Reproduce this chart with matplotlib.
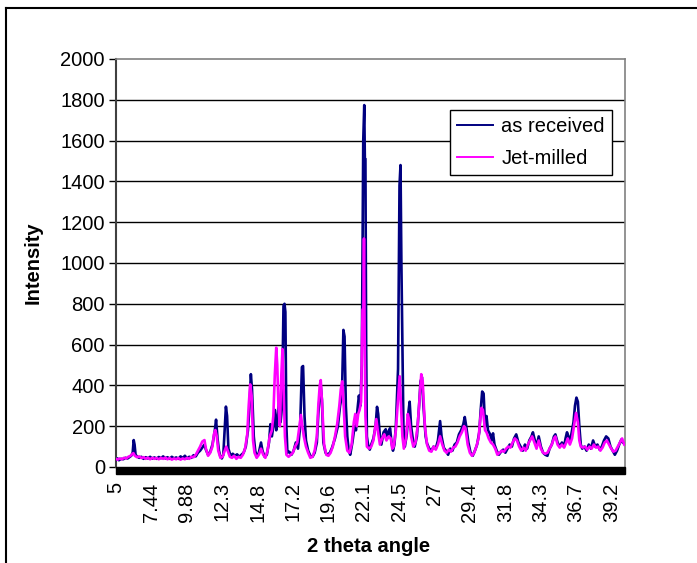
import matplotlib
matplotlib.use("Agg")
import matplotlib.pyplot as plt
from matplotlib.patches import Rectangle
from matplotlib.lines import Line2D

plt.rcParams['font.family'] = ['Liberation Sans', 'DejaVu Sans']

# as received (angle, intensity)
received_x = [5.0, 5.1, 5.2, 5.35, 5.5, 5.65, 5.8, 5.95, 6.05, 6.15, 6.22, 6.28, 6.35, 6.45, 6.6, 6.75, 6.9,
              7.05, 7.2, 7.35, 7.5, 7.65, 7.8, 7.95, 8.1, 8.25, 8.4, 8.55, 8.7, 8.85, 9.0, 9.15, 9.3, 9.45,
              9.6, 9.75, 9.9, 10.05, 10.2, 10.35, 10.5, 10.65, 10.8, 10.95, 11.1, 11.2, 11.35, 11.5, 11.65,
              11.8, 11.9, 12.0, 12.1, 12.2, 12.3, 12.4, 12.5, 12.58, 12.66, 12.75, 12.9, 13.05, 13.2, 13.35,
              13.5, 13.65, 13.8, 13.95, 14.1, 14.2, 14.3, 14.38, 14.5, 14.6, 14.7, 14.85, 15.0, 15.1, 15.25,
              15.4, 15.55, 15.65, 15.75, 15.85, 15.95, 16.05, 16.15, 16.25, 16.35, 16.45, 16.55, 16.62, 16.68,
              16.75, 16.82, 16.95, 17.1, 17.25, 17.4, 17.55, 17.7, 17.82, 17.9, 18.0, 18.1, 18.25, 18.4, 18.55,
              18.7, 18.85, 18.95, 19.05, 19.12, 19.2, 19.3, 19.45, 19.6, 19.75, 19.9, 20.1, 20.3, 20.45, 20.58,
              20.68, 20.76, 20.85, 20.95, 21.05, 21.15, 21.3, 21.45, 21.55, 21.65, 21.75, 21.85, 21.95, 22.05,
              22.12, 22.16, 22.2, 22.25, 22.3, 22.4, 22.5, 22.6, 22.75, 22.9, 23.0, 23.08, 23.2, 23.3, 23.45,
              23.6, 23.7, 23.8, 23.9, 24.0, 24.1, 24.2, 24.3, 24.45, 24.55, 24.62, 24.68, 24.75, 24.82, 24.92,
              25.05, 25.15, 25.25, 25.35, 25.5, 25.6, 25.75, 25.9, 26.0, 26.1, 26.2, 26.35, 26.45, 26.6, 26.75,
              26.9, 27.05, 27.2, 27.35, 27.45, 27.6, 27.75, 27.9, 28.05, 28.2, 28.35, 28.5, 28.65, 28.8, 28.95,
              29.05, 29.15, 29.3, 29.45, 29.6, 29.75, 29.9, 30.05, 30.15, 30.25, 30.35, 30.45, 30.55, 30.65,
              30.8, 30.9, 31.0, 31.1, 31.25, 31.4, 31.55, 31.7, 31.85, 32.0, 32.15, 32.3, 32.45, 32.6, 32.75,
              32.9, 33.05, 33.2, 33.35, 33.5, 33.65, 33.75, 33.85, 34.0, 34.15, 34.3, 34.45, 34.6, 34.75, 34.9,
              35.05, 35.2, 35.3, 35.45, 35.6, 35.75, 35.9, 36.0, 36.1, 36.2, 36.3, 36.4, 36.55, 36.65, 36.75,
              36.85, 36.95, 37.05, 37.15, 37.3, 37.45, 37.6, 37.75, 37.9, 38.05, 38.2, 38.35, 38.5, 38.65, 38.8,
              38.95, 39.1, 39.25, 39.4, 39.55, 39.7, 39.85, 39.95, 40.05]
received_y = [35, 42, 33, 40, 38, 45, 42, 50, 55, 70, 132, 110, 60, 52, 45, 50, 40,
              48, 42, 50, 41, 47, 40, 49, 43, 52, 42, 48, 40, 50, 42, 47, 40, 52,
              44, 55, 42, 50, 45, 58, 52, 70, 80, 95, 110, 85, 60, 75, 110,
              170, 232, 140, 80, 50, 42, 60, 190, 296, 250, 90, 55, 65, 55, 62,
              50, 60, 70, 100, 180, 290, 455, 380, 150, 80, 50, 70, 120, 80, 50,
              60, 120, 210, 150, 200, 280, 180, 250, 340, 220, 300, 790, 800, 760,
              200, 70, 75, 60, 80, 120, 90, 200, 490, 495, 250, 130, 80, 55, 50,
              70, 120, 260, 350, 400, 330, 120, 70, 60, 70, 95, 140, 200, 300, 350,
              672, 640, 300, 150, 80, 60, 120, 200, 180, 280, 350, 300, 500, 1600,
              1774, 1510, 1510, 600, 150, 100, 85, 110, 140, 200, 295, 260, 150, 110, 170,
              185, 140, 175, 190, 120, 80, 110, 200, 480, 1380, 1480, 1000, 600, 200, 100,
              160, 260, 320, 200, 120, 100, 150, 300, 420, 440, 300, 150, 115, 90, 80,
              100, 90, 130, 225, 150, 95, 80, 60, 90, 80, 110, 120, 160, 180, 210,
              245, 200, 120, 70, 55, 80, 110, 170, 280, 370, 360, 200, 250, 180,
              160, 130, 165, 110, 80, 60, 75, 85, 70, 90, 110, 100, 140, 160, 120,
              100, 80, 110, 90, 130, 150, 170, 140, 100, 150, 100, 70, 60, 55, 90,
              110, 150, 160, 120, 100, 120, 100, 140, 170, 150, 120, 160, 220, 300, 340,
              320, 200, 110, 90, 100, 80, 110, 90, 130, 100, 110, 85, 100, 130, 150,
              140, 100, 80, 60, 80, 110, 135, 120, 115]

# jet-milled
milled_x = [5.0, 5.1, 5.25, 5.4, 5.55, 5.7, 5.85, 6.0, 6.1, 6.2, 6.3, 6.45, 6.6, 6.75, 6.9, 7.05, 7.2,
            7.35, 7.5, 7.65, 7.8, 7.95, 8.1, 8.25, 8.4, 8.55, 8.7, 8.85, 9.0, 9.15, 9.3, 9.45, 9.6, 9.75,
            9.9, 10.05, 10.2, 10.35, 10.5, 10.65, 10.8, 10.95, 11.1, 11.2, 11.35, 11.5, 11.65, 11.75, 11.85,
            11.95, 12.05, 12.2, 12.35, 12.5, 12.6, 12.7, 12.85, 13.0, 13.15, 13.3, 13.45, 13.6, 13.75, 13.9,
            14.05, 14.15, 14.25, 14.35, 14.45, 14.55, 14.7, 14.85, 15.0, 15.15, 15.3, 15.45, 15.6, 15.75,
            15.85, 15.95, 16.05, 16.12, 16.2, 16.3, 16.4, 16.48, 16.55, 16.65, 16.75, 16.9, 17.05, 17.2,
            17.35, 17.5, 17.65, 17.75, 17.85, 17.95, 18.1, 18.25, 18.4, 18.55, 18.7, 18.85, 18.95, 19.05,
            19.12, 19.22, 19.35, 19.5, 19.65, 19.8, 19.95, 20.1, 20.25, 20.4, 20.5, 20.6, 20.7, 20.8, 20.95,
            21.1, 21.25, 21.4, 21.5, 21.6, 21.7, 21.8, 21.9, 22.0, 22.06, 22.1, 22.14, 22.2, 22.3, 22.45,
            22.6, 22.75, 22.85, 22.95, 23.05, 23.2, 23.35, 23.5, 23.65, 23.8, 23.95, 24.05, 24.15, 24.3,
            24.45, 24.56, 24.65, 24.75, 24.85, 25.0, 25.12, 25.22, 25.35, 25.5, 25.65, 25.8, 25.95, 26.05,
            26.15, 26.3, 26.45, 26.6, 26.75, 26.9, 27.05, 27.2, 27.35, 27.5, 27.65, 27.8, 27.95, 28.1, 28.25,
            28.4, 28.55, 28.7, 28.85, 29.0, 29.1, 29.25, 29.4, 29.55, 29.7, 29.85, 30.0, 30.1, 30.2, 30.3,
            30.45, 30.55, 30.7, 30.85, 31.0, 31.15, 31.3, 31.45, 31.6, 31.75, 31.9, 32.05, 32.2, 32.35, 32.5,
            32.65, 32.8, 32.95, 33.1, 33.25, 33.4, 33.55, 33.7, 33.85, 34.0, 34.15, 34.3, 34.45, 34.6, 34.75,
            34.9, 35.05, 35.2, 35.3, 35.45, 35.6, 35.75, 35.9, 36.05, 36.15, 36.3, 36.45, 36.6, 36.72, 36.85,
            36.95, 37.05, 37.2, 37.35, 37.5, 37.65, 37.8, 37.95, 38.1, 38.25, 38.4, 38.55, 38.7, 38.85, 39.0,
            39.15, 39.3, 39.45, 39.6, 39.75, 39.9, 40.05]
milled_y = [40, 36, 42, 38, 45, 42, 50, 55, 62, 68, 55, 48, 52, 44, 48, 40, 46,
            38, 45, 40, 44, 38, 45, 40, 46, 38, 44, 36, 42, 38, 44, 36, 42, 38,
            45, 40, 50, 48, 60, 80, 100, 125, 132, 90, 55, 70, 100, 160, 181,
            150, 80, 45, 50, 80, 100, 80, 50, 45, 55, 40, 50, 45, 60, 90,
            160, 300, 405, 350, 130, 70, 45, 60, 90, 60, 45, 80, 150, 180,
            250, 450, 585, 500, 300, 200, 450, 578, 400, 150, 60, 50, 60, 70,
            100, 120, 200, 255, 200, 150, 100, 70, 45, 50, 80, 150, 300, 400,
            426, 300, 110, 60, 55, 70, 100, 150, 210, 300, 380, 420, 300, 150, 80,
            70, 110, 220, 260, 200, 260, 280, 320, 770, 780, 1120, 700, 250, 100, 90,
            100, 130, 180, 235, 180, 110, 140, 160, 130, 150, 140, 90, 100, 180,
            330, 445, 300, 150, 90, 140, 260, 230, 150, 100, 120, 200, 350, 455,
            420, 200, 110, 80, 75, 100, 85, 110, 150, 110, 80, 70, 85, 75, 95,
            100, 120, 150, 170, 200, 190, 110, 70, 55, 70, 100, 140, 220, 290, 280,
            180, 170, 140, 120, 110, 90, 60, 70, 80, 75, 90, 100, 95, 120, 140,
            130, 100, 80, 95, 80, 110, 130, 150, 120, 90, 130, 90, 70, 65, 70,
            90, 110, 140, 150, 110, 95, 110, 95, 120, 140, 110, 140, 210, 265, 220,
            130, 100, 95, 100, 85, 100, 90, 110, 95, 100, 80, 95, 120, 130, 110,
            90, 75, 80, 100, 120, 140, 110]

tick_pos = [5, 7.44, 9.88, 12.32, 14.76, 17.2, 19.64, 22.08, 24.52, 26.96, 29.4, 31.84, 34.28, 36.72, 39.16]
tick_labels = ["5", "7.44", "9.88", "12.3", "14.8", "17.2", "19.6", "22.1", "24.5", "27",
               "29.4", "31.8", "34.3", "36.7", "39.2"]

W, H = 697, 563
fig = plt.figure(figsize=(W / 100, H / 100), dpi=100)
ax = fig.add_axes([116 / W, 1 - 467 / H, (625 - 116) / W, (467 - 59) / H])

ax.plot(received_x, received_y, color='#000080', lw=1.9, label='as received', zorder=3)
ax.plot(milled_x, milled_y, color='#FF00FF', lw=1.9, label='Jet-milled', zorder=4)

ax.set_xlim(5, 40.1)
ax.set_ylim(0, 2000)
ax.set_yticks(range(0, 2001, 200))
for v in range(200, 2000, 200):
    ax.axhline(v, color='black', lw=1, zorder=1)

ax.set_xticks(tick_pos)
ax.set_xticklabels(tick_labels, rotation=90, fontsize=14.5)
ax.tick_params(axis='x', length=0, pad=11)
ax.tick_params(axis='y', direction='out', length=5, width=1, labelsize=14.5, pad=3)

for s in ['top', 'right']:
    ax.spines[s].set_color('#808080')
    ax.spines[s].set_linewidth(1.2)
ax.spines['left'].set_color('#404040')
ax.spines['left'].set_linewidth(1.5)
ax.spines['bottom'].set_visible(False)

# dense category tick marks form a solid band under the axis
ax.add_patch(Rectangle((0, -7 / 408), 1, 7 / 408, transform=ax.transAxes,
                       color='black', clip_on=False, zorder=5))

leg = ax.legend(loc='upper right', bbox_to_anchor=((612 - 116) / 509, (467 - 110) / 408),
                fontsize=14.5, frameon=True, fancybox=False, edgecolor='black',
                framealpha=1, handlelength=1.8, borderpad=0.35, labelspacing=0.65,
                handletextpad=0.4, borderaxespad=0)
leg.get_frame().set_linewidth(1)
for h in leg.get_lines():
    h.set_linewidth(1.4)

fig.text(33 / W, 1 - 263 / H, 'Intensity', rotation=90, ha='center', va='center',
         fontsize=14.5, fontweight='bold')
fig.text(369 / W, 1 - 546 / H, '2 theta angle', ha='center', va='center',
         fontsize=14.5, fontweight='bold')

# outer chart frame (cut off on right and bottom)
fig.add_artist(Line2D([6 / W, 6 / W], [0, 1 - 8 / H], color='black', lw=1.5))
fig.add_artist(Line2D([6 / W, 1], [1 - 8 / H, 1 - 8 / H], color='black', lw=1.5))

fig.savefig('out.png', dpi=100)
